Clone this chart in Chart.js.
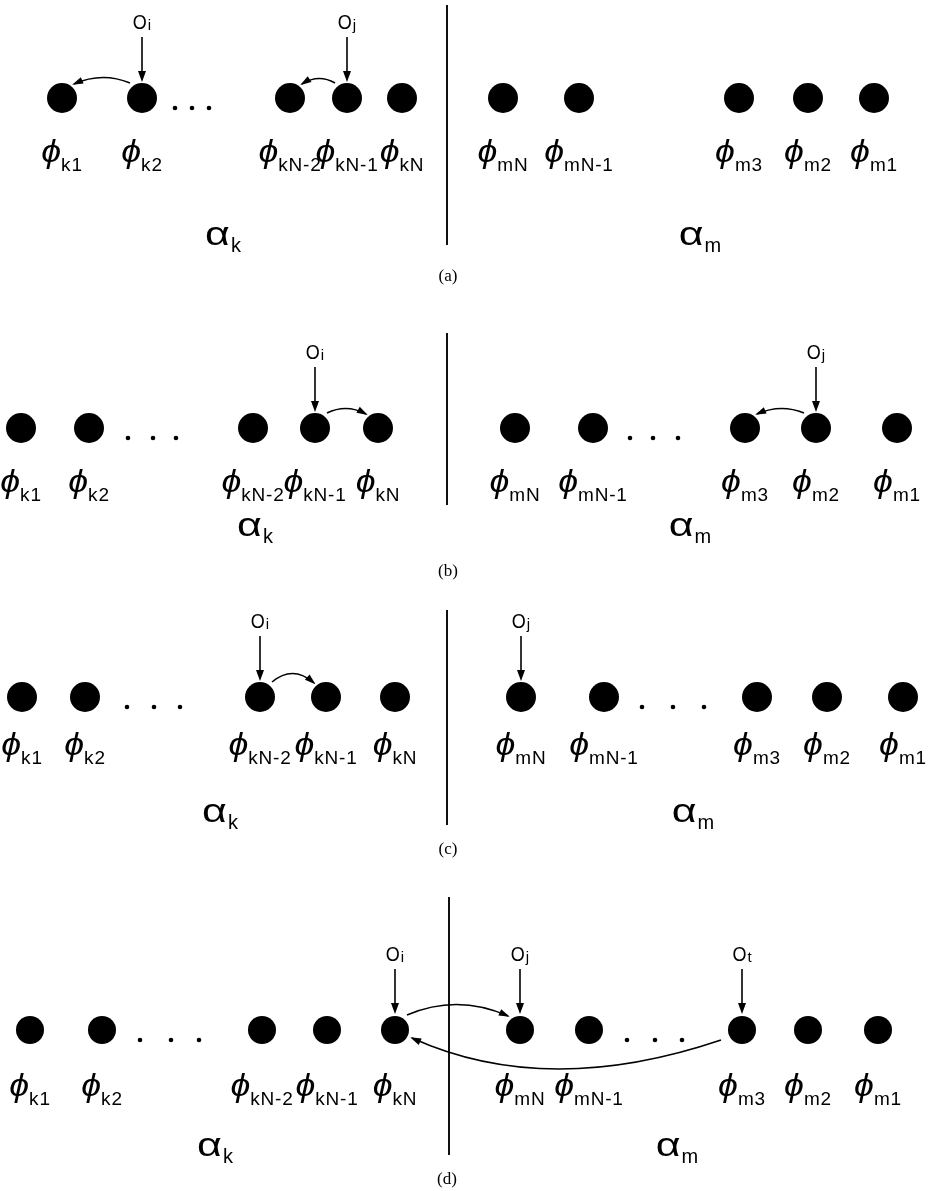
<!DOCTYPE html>
<html>
<head>
<meta charset="utf-8">
<script src="https://cdn.jsdelivr.net/npm/chart.js@4"></script>
<style>
  html, body { margin: 0; background: #fff; }
  canvas { display: block; }
</style>
</head>
<body>
<canvas id="fig" width="937" height="1191"></canvas>
<script>
// panel names and node labels
const panelNames = ['(a)', '(b)', '(c)', '(d)'];
const kLabels = ['k1', 'k2', 'kN-2', 'kN-1', 'kN'];
const mLabels = ['mN', 'mN-1', 'm3', 'm2', 'm1'];

// row of nodes for each panel
const rowY = [98, 428, 697, 1030];

// node positions along the row, per panel
const kXa = [62, 142, 290, 347, 402];
const mXa = [503, 579, 739, 808, 874];
const kXb = [21, 89, 253, 315, 378];
const mXb = [515, 593, 745, 816, 897];
const kXc = [22, 85, 260, 326, 395];
const mXc = [521, 604, 757, 827, 903];
const kXd = [30, 102, 262, 327, 395];
const mXd = [520, 589, 742, 808, 878];

// the "..." dots
const gapXa = [175, 192, 209];
const gapXb = [128, 153, 176, 630, 653, 678];
const gapXc = [127, 154, 180, 642, 673, 704];
const gapXd = [140, 171, 199, 627, 655, 682];

// operators: [subscript, side, node index]
const opsA = [['i', 'k', 1], ['j', 'k', 3]];
const opsB = [['i', 'k', 3], ['j', 'm', 3]];
const opsC = [['i', 'k', 2], ['j', 'm', 0]];
const opsD = [['i', 'k', 4], ['j', 'm', 0], ['t', 'm', 2]];

// moves: [from side, from index, to side, to index]
const movesA = [['k', 1, 'k', 0], ['k', 3, 'k', 2]];
const movesB = [['k', 3, 'k', 4], ['m', 3, 'm', 2]];
const movesC = [['k', 2, 'k', 3]];
const movesD = [['k', 4, 'm', 0], ['m', 2, 'k', 4]];

// divider between the two groups
const dividerX = [447, 447, 447, 449];
const dividerTop = [5, 333, 610, 897];
const dividerBottom = [245, 505, 825, 1155];

const kX = [kXa, kXb, kXc, kXd];
const mX = [mXa, mXb, mXc, mXd];
const gapX = [gapXa, gapXb, gapXc, gapXd];
const ops = [opsA, opsB, opsC, opsD];
const moves = [movesA, movesB, movesC, movesD];

// layout only (text placement)
const layout = {
  alphaK: [[223, 236], [255, 527], [220, 813], [215, 1147]],
  alphaM: [[700, 236], [690, 527], [693, 813], [677, 1147]],
  caption: [[448, 277], [448, 572], [448, 850], [447, 1180]],
  labelDy: [55, 55, 49, 57],
  arcLift: [[6, 5], [5, 5], [9], [11, -30]]
};

const datasets = [];
for (let p = 0; p < 4; p++) {
  datasets.push({
    type: 'scatter',
    data: kX[p].concat(mX[p]).map(x => ({ x: x, y: rowY[p] })),
    pointRadius: p === 3 ? 14 : 15,
    pointBackgroundColor: '#000',
    pointBorderWidth: 0,
    clip: false
  });
  datasets.push({
    type: 'scatter',
    data: gapX[p].map(x => ({ x: x, y: rowY[p] + 10 })),
    pointRadius: 2.3,
    pointBackgroundColor: '#000',
    pointBorderWidth: 0,
    clip: false
  });
  datasets.push({
    type: 'line',
    data: [{ x: dividerX[p], y: dividerTop[p] }, { x: dividerX[p], y: dividerBottom[p] }],
    borderColor: '#111',
    borderWidth: 2,
    pointRadius: 0,
    clip: false
  });
}

function nodeX(p, side, i) {
  return side === 'k' ? kX[p][i] : mX[p][i];
}

function arrowHead(ctx, x, y, ang, len, wid) {
  ctx.beginPath();
  ctx.moveTo(x, y);
  ctx.lineTo(x - len * Math.cos(ang) + wid * Math.sin(ang), y - len * Math.sin(ang) - wid * Math.cos(ang));
  ctx.lineTo(x - len * Math.cos(ang) - wid * Math.sin(ang), y - len * Math.sin(ang) + wid * Math.cos(ang));
  ctx.closePath();
  ctx.fill();
}

// text with subscript, centred on cx; sx stretches the base glyph
function subText(ctx, base, sub, cx, cy, baseFont, subFont, subDy, gap, sx, spacing) {
  sx = sx || 1;
  ctx.letterSpacing = '0px';
  ctx.font = baseFont;
  const w1 = ctx.measureText(base).width * sx;
  ctx.font = subFont;
  ctx.letterSpacing = spacing || '0px';
  const w2 = ctx.measureText(sub).width;
  const x0 = cx - (w1 + gap + w2) / 2;
  ctx.textAlign = 'left';
  ctx.textBaseline = 'middle';
  ctx.letterSpacing = '0px';
  ctx.font = baseFont;
  ctx.save();
  ctx.translate(x0, cy);
  ctx.scale(sx, 1);
  ctx.fillText(base, 0, 0);
  ctx.restore();
  ctx.font = subFont;
  ctx.letterSpacing = spacing || '0px';
  ctx.fillText(sub, x0 + w1 + gap, cy + subDy);
  ctx.letterSpacing = '0px';
}

const figurePlugin = {
  id: 'figure',
  afterDatasetsDraw(chart) {
    const ctx = chart.ctx;
    const sx = chart.scales.x, sy = chart.scales.y;
    const X = v => sx.getPixelForValue(v);
    const Y = v => sy.getPixelForValue(v);
    ctx.save();
    ctx.fillStyle = '#000';
    ctx.strokeStyle = '#000';

    const phiFont = 'italic 31px "Liberation Sans"';
    const subFont = '19px "Liberation Sans"';

    for (let p = 0; p < 4; p++) {
      const y = Y(rowY[p]);
      const ly = y + layout.labelDy[p];

      // node labels
      kLabels.forEach((lab, i) => {
        subText(ctx, 'ϕ', lab, X(kX[p][i]), ly, phiFont, subFont, 13, 0, 1.15, '0.8px');
      });
      mLabels.forEach((lab, i) => {
        subText(ctx, 'ϕ', lab, X(mX[p][i]), ly, phiFont, subFont, 13, 0, 1.15, '0.8px');
      });

      // group labels
      const ak = layout.alphaK[p], am = layout.alphaM[p];
      subText(ctx, 'α', 'k', X(ak[0]), Y(ak[1]), '33px "Liberation Sans"', '20px "Liberation Sans"', 10, 1, 1.3);
      subText(ctx, 'α', 'm', X(am[0]), Y(am[1]), '33px "Liberation Sans"', '20px "Liberation Sans"', 10, 1, 1.3);

      // caption
      const cp = layout.caption[p];
      ctx.font = '17px "Liberation Serif"';
      ctx.textAlign = 'center';
      ctx.textBaseline = 'middle';
      ctx.fillText(panelNames[p], X(cp[0]), Y(cp[1]));

      // operators with their down arrows
      ops[p].forEach(op => {
        const x = X(nodeX(p, op[1], op[2]));
        subText(ctx, 'O', op[0], x, y - 75, '20px "Liberation Sans"', '15px "Liberation Sans"', 3, 1, 0.9);
        ctx.lineWidth = 1.6;
        ctx.beginPath();
        ctx.moveTo(x, y - 61);
        ctx.lineTo(x, y - 24);
        ctx.stroke();
        arrowHead(ctx, x, y - 16, Math.PI / 2, 11, 4);
      });

      // curved moves
      moves[p].forEach((mv, n) => {
        const fx = X(nodeX(p, mv[0], mv[1]));
        const tx = X(nodeX(p, mv[2], mv[3]));
        const dir = Math.sign(tx - fx);
        const lift = layout.arcLift[p][n];
        let x0, y0, x1, y1;
        if (lift > 0) {
          x0 = fx + dir * 12; y0 = y - 15;
          x1 = tx - dir * 12; y1 = y - 14;
        } else {
          x0 = fx + dir * 21; y0 = y + 10;
          x1 = tx - dir * 17; y1 = y + 8;
        }
        const cx = (x0 + x1) / 2 + (lift < 0 ? -20 : 0);
        const cy = (y0 + y1) / 2 - 2 * lift;
        ctx.lineWidth = 1.5;
        ctx.beginPath();
        ctx.moveTo(x0, y0);
        ctx.quadraticCurveTo(cx, cy, x1, y1);
        ctx.stroke();
        const ang = Math.atan2(y1 - cy, x1 - cx);
        arrowHead(ctx, x1 + 2 * Math.cos(ang), y1 + 2 * Math.sin(ang), ang, 11, 3.5);
      });
    }
    ctx.restore();
  }
};

new Chart(document.getElementById('fig'), {
  type: 'scatter',
  data: { datasets: datasets },
  options: {
    responsive: false,
    animation: false,
    events: [],
    layout: { padding: 0, autoPadding: false },
    plugins: { legend: { display: false }, tooltip: { enabled: false } },
    scales: {
      x: { type: 'linear', min: 0, max: 937, display: false },
      y: { type: 'linear', min: 0, max: 1191, reverse: true, display: false }
    }
  },
  plugins: [figurePlugin]
});
</script>
</body>
</html>
